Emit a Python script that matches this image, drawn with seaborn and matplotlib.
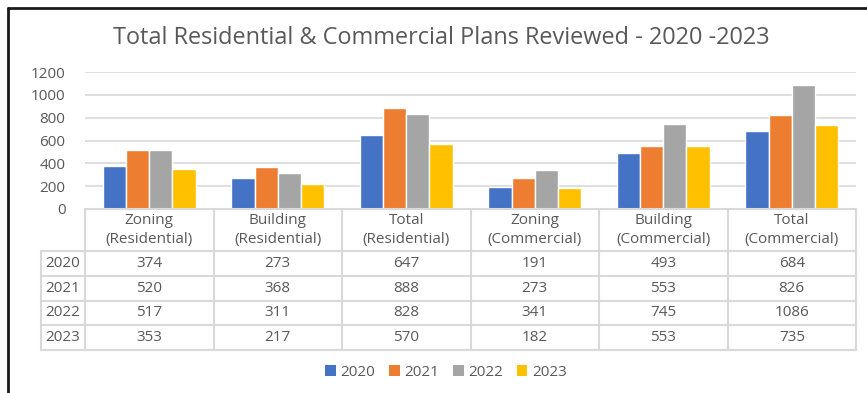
import matplotlib
matplotlib.use("Agg")
import matplotlib.pyplot as plt
from matplotlib.lines import Line2D
from matplotlib.patches import Patch
import pandas as pd
import seaborn as sns

categories = ["Zoning\n(Residential)", "Building\n(Residential)", "Total\n(Residential)",
              "Zoning\n(Commercial)", "Building\n(Commercial)", "Total\n(Commercial)"]
years = ["2020", "2021", "2022", "2023"]
values_2020 = [374, 273, 647, 191, 493, 684]
values_2021 = [520, 368, 888, 273, 553, 826]
values_2022 = [517, 311, 828, 341, 745, 1086]
values_2023 = [353, 217, 570, 182, 553, 735]
series = [values_2020, values_2021, values_2022, values_2023]
colors = ["#4472C4", "#ED7D31", "#A5A5A5", "#FFC000"]
yticks = [0, 200, 400, 600, 800, 1000, 1200]
title = "Total Residential & Commercial Plans Reviewed - 2020 -2023"

rows = []
for yr, vals in zip(years, series):
    for cat, v in zip(categories, vals):
        rows.append({"category": cat, "year": yr, "value": v})
df = pd.DataFrame(rows)

sns.set_style("white")
plt.rcParams["font.family"] = ["Open Sans", "DejaVu Sans"]
TXT = "#595959"
GRID = "#D9D9D9"
FS = 11

W, H = 867, 393
fig = plt.figure(figsize=(W / 100, H / 100), dpi=100)

def fx(x):
    return x / W

def fy(y):
    return 1 - y / H

# plot area
left, right, top, bottom = 85, 856, 72, 209
ax = fig.add_axes([fx(left), fy(bottom), fx(right - left), (bottom - top) / H])
sns.barplot(data=df, x="category", y="value", hue="year", palette=colors,
            width=0.72, saturation=1, ax=ax, legend=False)
ax.set_ylim(0, 1200)
ax.set_xlim(-0.5, len(categories) - 0.5)
ax.set_yticks(yticks)
ax.set_yticklabels([str(t) for t in yticks], color=TXT, fontsize=FS)
ax.set_xticks([])
ax.set_xlabel("")
ax.set_ylabel("")
ax.tick_params(axis="y", length=0, pad=14)
ax.grid(axis="y", color=GRID, lw=1.2)
ax.set_axisbelow(True)
for s in ax.spines.values():
    s.set_visible(False)

# title
fig.text(fx(441), fy(38), title, ha="center", va="center", fontsize=16.9, color=TXT)

# data table
col_edges = [left + i * (right - left) / 6 for i in range(7)]
row_edges = [209, 251, 276, 301, 325, 350]
yr_left = 41

def hline(x0, x1, y):
    fig.add_artist(Line2D([fx(x0), fx(x1)], [fy(y), fy(y)], color=GRID, lw=1.5,
                          transform=fig.transFigure))

def vline(x, y0, y1):
    fig.add_artist(Line2D([fx(x), fx(x)], [fy(y0), fy(y1)], color=GRID, lw=1.5,
                          transform=fig.transFigure))

hline(left, right, row_edges[0])
for y in row_edges[1:]:
    hline(yr_left, right, y)
vline(yr_left, row_edges[1], row_edges[-1])
for x in col_edges:
    vline(x, row_edges[0], row_edges[-1])

for i, cat in enumerate(categories):
    cx = (col_edges[i] + col_edges[i + 1]) / 2
    l1, l2 = cat.split("\n")
    fig.text(fx(cx), fy(221), l1, ha="center", va="center", fontsize=FS, color=TXT)
    fig.text(fx(cx), fy(240), l2, ha="center", va="center", fontsize=FS, color=TXT)
    for r, vals in enumerate(series):
        cy = (row_edges[r + 1] + row_edges[r + 2]) / 2
        fig.text(fx(cx), fy(cy), str(vals[i]), ha="center", va="center",
                 fontsize=FS, color=TXT)
for r, yr in enumerate(years):
    cy = (row_edges[r + 1] + row_edges[r + 2]) / 2
    fig.text(fx((yr_left + left) / 2), fy(cy), yr, ha="center", va="center",
             fontsize=FS, color=TXT)

# legend
handles = [Patch(facecolor=c, edgecolor="none", label=y) for c, y in zip(colors, years)]
fig.legend(handles=handles, loc="center", bbox_to_anchor=(fx(446), fy(372)), ncol=4,
           frameon=False, fontsize=FS, labelcolor=TXT, handlelength=0.7,
           handleheight=0.7, handletextpad=0.3, columnspacing=0.9)

# outer frame (top and left edges)
fig.add_artist(Line2D([fx(8), fx(W)], [fy(8), fy(8)], color="#1a1a1a", lw=2,
                      transform=fig.transFigure))
fig.add_artist(Line2D([fx(8), fx(8)], [fy(8), fy(H)], color="#1a1a1a", lw=2,
                      transform=fig.transFigure))

fig.savefig("out.png", dpi=100, facecolor="white")
